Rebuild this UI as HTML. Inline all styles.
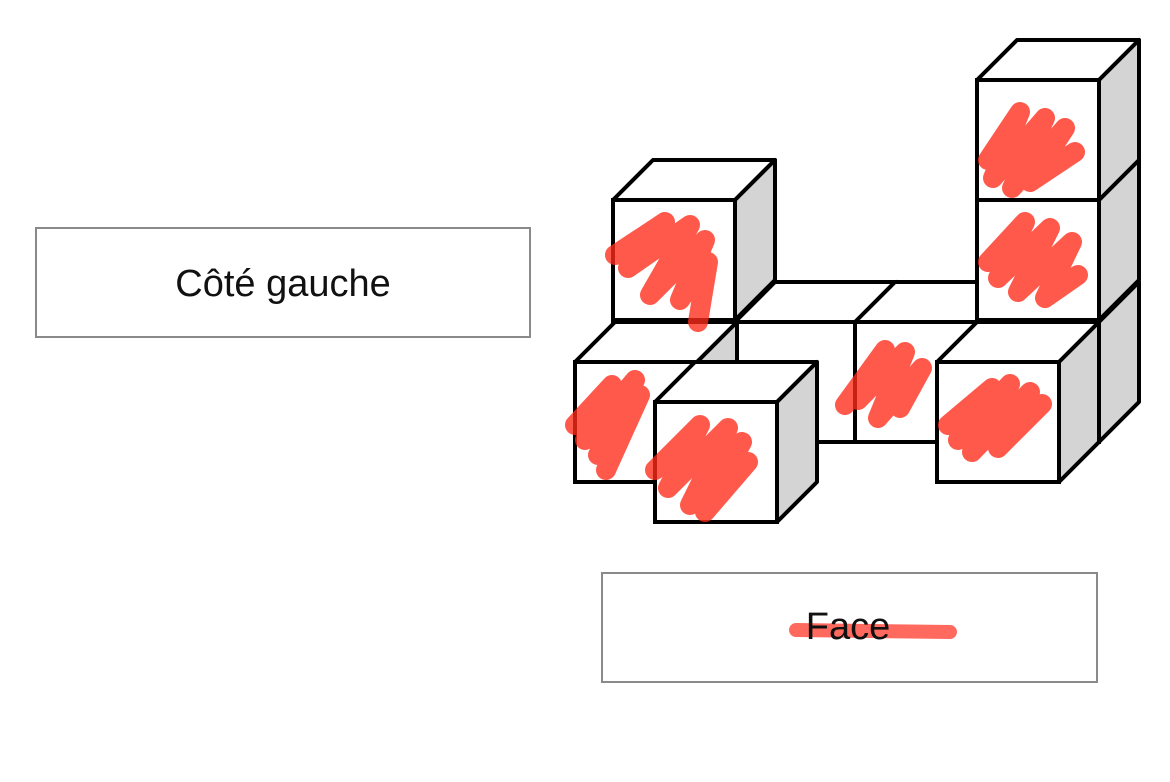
<!DOCTYPE html>
<html><head><meta charset="utf-8"><style>
html,body{margin:0;padding:0;background:#fff;width:1170px;height:782px;overflow:hidden}
svg{display:block}
</style></head><body>
<svg width="1170" height="782" viewBox="0 0 1170 782" xmlns="http://www.w3.org/2000/svg">
<defs>
<g id="cube">
  <polygon points="0,0 40,-40 162,-40 122,0" fill="#fff" stroke="#000" stroke-width="4" stroke-linejoin="round"/>
  <polygon points="122,0 162,-40 162,80 122,120" fill="#d4d4d4" stroke="#000" stroke-width="4" stroke-linejoin="round"/>
  <rect x="0" y="0" width="122" height="120" fill="#fff" stroke="#000" stroke-width="4"/>
</g>
</defs>
<rect x="36" y="228" width="494" height="109" fill="#fff" stroke="#8a8a8a" stroke-width="2"/>
<text x="283" y="296" font-family="Liberation Sans, sans-serif" font-size="38" text-anchor="middle" fill="#111">Côté gauche</text>

<use href="#cube" x="613" y="322"/>
<use href="#cube" x="613" y="200"/>
<use href="#cube" x="735" y="322"/>
<use href="#cube" x="855" y="322"/>
<use href="#cube" x="977" y="322"/>
<use href="#cube" x="977" y="200"/>
<use href="#cube" x="977" y="80"/>
<use href="#cube" x="575" y="362"/>
<use href="#cube" x="937" y="362"/>
<use href="#cube" x="655" y="402"/>

<g fill="none" stroke="#ff2a1a" stroke-opacity="0.78" stroke-width="20" stroke-linecap="round" stroke-linejoin="round">
  <path d="M615,255 L665,222 L628,268 L690,225 L650,295 L705,240 L680,300 L708,262 L698,322"/>
  <path d="M575,425 L612,385 L585,440 L635,380 L598,455 L640,395 L606,470"/>
  <path d="M655,470 L700,425 L668,488 L728,428 L690,505 L742,442 L705,512 L748,462"/>
  <path d="M845,405 L885,350 L858,400 L905,352 L878,418 L922,368 L900,408"/>
  <path d="M948,425 L992,388 L958,440 L1010,384 L972,452 L1030,392 L998,448 L1042,404"/>
  <path d="M988,160 L1020,112 L993,178 L1045,118 L1012,188 L1065,128 L1030,182 L1075,152"/>
  <path d="M988,262 L1025,222 L998,278 L1050,228 L1018,292 L1072,242 L1045,298 L1078,275"/>
</g>

<rect x="602" y="573" width="495" height="109" fill="#fff" stroke="#8a8a8a" stroke-width="2"/>
<line x1="796" y1="630" x2="950" y2="632" stroke="#ff2a1a" stroke-opacity="0.7" stroke-width="14" stroke-linecap="round"/>
<text x="848" y="639" font-family="Liberation Sans, sans-serif" font-size="38" text-anchor="middle" fill="#111">Face</text>
</svg>
</body></html>
